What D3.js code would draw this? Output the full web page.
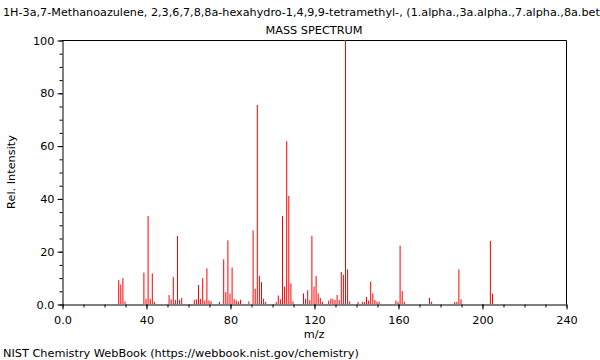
<!DOCTYPE html>
<html>
<head>
<meta charset="utf-8">
<script src="https://cdn.jsdelivr.net/npm/d3@7"></script>
<style>
  html, body { margin: 0; padding: 0; background: #fff; }
  svg { display: block; }
  text { font-family: "DejaVu Sans", sans-serif; }
</style>
</head>
<body>
<svg id="chart" width="600" height="360"></svg>
<script>
const titleText = "1H-3a,7-Methanoazulene, 2,3,6,7,8,8a-hexahydro-1,4,9,9-tetramethyl-, (1.alpha.,3a.alpha.,7.alpha.,8a.beta.)-";
const subtitleText = "MASS SPECTRUM";
const xLabel = "m/z";
const yLabel = "Rel. Intensity";
const footerText = "NIST Chemistry WebBook (https://webbook.nist.gov/chemistry)";

const mz = [27,28,29,30,39,40,41,42,43,44,51,52,53,54,55,56,57,63,64,65,66,67,68,69,70,71,75,77,78,79,80,81,82,83,84,85,89,91,92,93,94,95,96,97,102,103,104,105,106,107,108,109,110,115,116,117,118,119,120,121,122,123,124,127,128,129,130,131,132,133,134,135,136,137,141,143,144,145,146,147,148,149,150,151,159,160,161,162,163,175,176,187,188,189,190,204,205];
const intensity = [9,7.4,9.8,1,11.9,2,33.3,2,11.6,0.8,3.4,1.8,10.2,1.5,25.8,1.6,2.3,1.5,1.8,7.2,1.9,9.8,1.3,13.5,1.4,1,0.8,16.9,4.5,24.1,3.9,13.8,1.8,1.3,0.9,1.6,1,27.9,5.8,75.4,10.6,8.3,2,0.8,0.8,3.2,1.8,33.3,6.6,61.7,40.9,7.8,1,4,2,5.2,1.5,25.8,6.6,10.6,4,2.3,0.8,1.3,2,2,1.5,3.4,1.5,12.1,11.1,100,13.1,1,0.8,0.8,0.8,2.7,1.3,8.5,4,1.5,0.9,0.9,1.3,0.8,22.1,4.9,0.8,2.3,0.9,0.8,0.8,13.1,1.8,23.9,3.9];

const xMajor = [0,40,80,120,160,200,240];
const xMinor = d3.range(0,241,10);
const yMajor = [0,20,40,60,80,100];
const yMinor = d3.range(0,101,5);

const svg = d3.select("#chart");
const mLeft = 62, mRight = 566, mTop = 40, mBottom = 304;
const x = d3.scaleLinear().domain([0,240]).range([mLeft,mRight]);
const y = d3.scaleLinear().domain([0,100]).range([mBottom,mTop]);
const fmt = d => d === 0 ? "0.0" : String(d);
const fs = 11.3;

// frame (top and right)
svg.append("path")
  .attr("d", `M${mLeft},${mTop+0.5}H${mRight+0.5}V${mBottom}`)
  .attr("fill","none").attr("stroke","#000").attr("stroke-width",1);

// bars
svg.append("g").selectAll("line").data(mz).join("line")
  .attr("x1", d => x(d)).attr("x2", d => x(d))
  .attr("y1", y(0)).attr("y2", (d,i) => y(intensity[i]))
  .attr("stroke","#ff0000").attr("stroke-width",1);

// minor ticks
const gxm = svg.append("g").attr("transform",`translate(0.5,${mBottom+0.5})`)
  .call(d3.axisBottom(x).tickValues(xMinor).tickSize(3).tickFormat(""));
gxm.select(".domain").remove();
const gym = svg.append("g").attr("transform",`translate(${mLeft+0.5},0.5)`)
  .call(d3.axisLeft(y).tickValues(yMinor).tickSize(3).tickFormat(""));
gym.select(".domain").remove();

// major axes
const gx = svg.append("g").attr("transform",`translate(0.5,${mBottom+0.5})`)
  .call(d3.axisBottom(x).tickValues(xMajor).tickSize(5).tickSizeOuter(0).tickFormat(fmt).tickPadding(6));
gx.selectAll("text").attr("font-size",fs).attr("fill","#000").attr("font-family","DejaVu Sans");
const gy = svg.append("g").attr("transform",`translate(${mLeft+0.5},0.5)`)
  .call(d3.axisLeft(y).tickValues(yMajor).tickSize(5).tickSizeOuter(0).tickFormat(fmt).tickPadding(3));
gy.selectAll("text").attr("font-size",fs).attr("fill","#000").attr("font-family","DejaVu Sans");

svg.selectAll(".domain, .tick line").attr("stroke","#000");

// texts
svg.append("text").attr("x",3).attr("y",16).attr("font-size",11.2).text(titleText);
svg.append("text").attr("x",(mLeft+mRight)/2).attr("y",34).attr("text-anchor","middle").attr("font-size",fs).text(subtitleText);
svg.append("text").attr("x",(mLeft+mRight)/2).attr("y",338).attr("text-anchor","middle").attr("font-size",fs).text(xLabel);
svg.append("text").attr("transform",`translate(15,${(mTop+mBottom)/2}) rotate(-90)`).attr("text-anchor","middle").attr("font-size",fs).text(yLabel);
svg.append("text").attr("x",3).attr("y",357).attr("font-size",fs).text(footerText);
</script>
</body>
</html>
